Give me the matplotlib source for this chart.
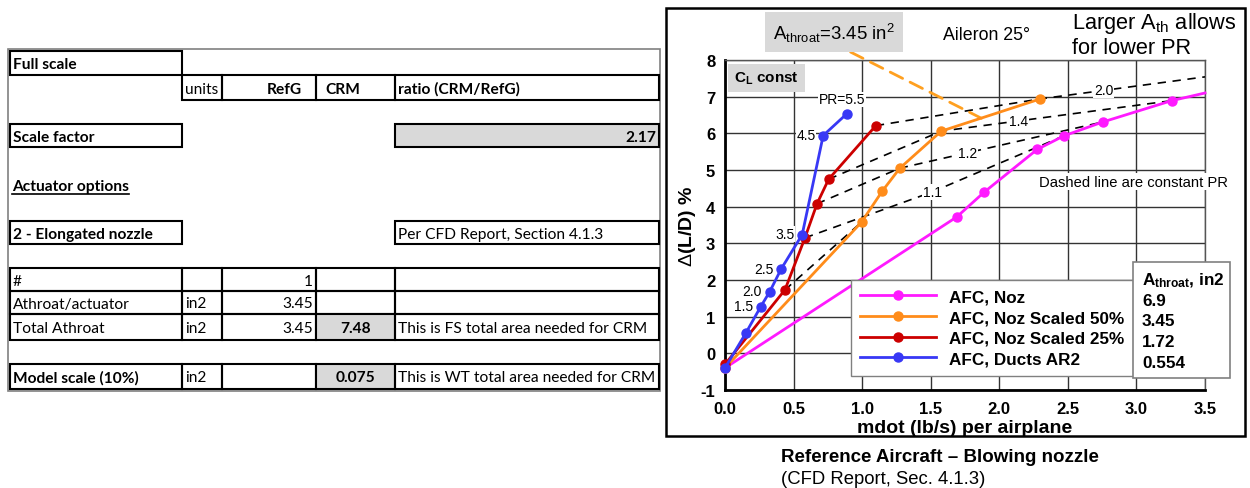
import numpy as np
import matplotlib
matplotlib.use('Agg')
import matplotlib.pyplot as plt
from matplotlib.patches import Rectangle

plt.rcParams['font.family'] = ['Liberation Sans', 'DejaVu Sans']
plt.rcParams['mathtext.fontset'] = 'custom'
plt.rcParams['mathtext.rm'] = 'Liberation Sans'
plt.rcParams['mathtext.it'] = 'Liberation Sans:italic'
plt.rcParams['mathtext.bf'] = 'Liberation Sans:bold'

# AFC blowing: mdot (lb/s) per airplane vs delta(L/D) %
noz_mdot = [0.0, 1.69, 1.888, 2.276, 2.47, 2.755, 3.256, 3.5]
noz_dld = [-0.4, 3.72, 4.39, 5.56, 5.93, 6.31, 6.89, 7.10]
noz50_mdot = [0.0, 0.996, 1.146, 1.275, 1.577, 2.30]
noz50_dld = [-0.4, 3.58, 4.42, 5.05, 6.06, 6.94]
noz25_mdot = [0.0, 0.437, 0.583, 0.671, 0.756, 1.10]
noz25_dld = [-0.3, 1.73, 3.15, 4.08, 4.75, 6.21]
ducts_mdot = [0.0, 0.153, 0.26, 0.326, 0.408, 0.563, 0.716, 0.887]
ducts_dld = [-0.4, 0.56, 1.27, 1.68, 2.29, 3.24, 5.94, 6.53]
ducts_pr = ['', '', '1.5', '2.0', '2.5', '3.5', '4.5', 'PR=5.5']

series_names = ['AFC, Noz', 'AFC, Noz Scaled 50%', 'AFC, Noz Scaled 25%', 'AFC, Ducts AR2']
athroat = ['6.9', '3.45', '1.72', '0.554']

# constant pressure-ratio lines
pr_names = ['', '1.1', '1.2', '1.4', '2.0']
pr_mdot = [[0.437, 0.996], [0.583, 1.51, 2.47], [0.671, 1.275, 2.755],
           [0.756, 1.577, 3.256], [1.10, 2.30, 3.5]]
pr_dld = [[1.73, 3.58], [3.15, 4.40, 5.93], [4.08, 5.05, 6.31],
          [4.75, 6.06, 6.89], [6.21, 6.94, 7.54]]
pr_label_at = [None, 1.51, 1.77, 2.14, 2.76]

# sizing sheet
sheet_header = ['units', 'RefG', 'CRM', 'ratio (CRM/RefG)']
scale_factor = '2.17'
nozzle_note = 'Per CFD Report, Section 4.1.3'
area_rows = [
    ['#', '', '1', '', ''],
    ['Athroat/actuator', 'in2', '3.45', '', ''],
    ['Total Athroat', 'in2', '3.45', '7.48', 'This is FS total area needed for CRM'],
]
model_row = ['Model scale (10%)', 'in2', '', '0.075', 'This is WT total area needed for CRM']

colors = ['#ff1aff', '#ff8c1a', '#cc0000', '#3838f5']
gray = '#d9d9d9'

fig = plt.figure(figsize=(12.5, 4.89), dpi=100)

ax = fig.add_axes([725 / 1250, 1 - 391 / 489, 480 / 1250, 330 / 489])

# page layer in pixel units
page = fig.add_axes([0, 0, 1, 1], zorder=5)
page.set_xlim(0, 1250)
page.set_ylim(489, 0)
page.axis('off')
page.patch.set_visible(False)

SHEET_FONT = 'Lato'
SHEET_SIZE = 11.2


def cell(x0, x1, y0, y1, text='', align='left', bold=False, fill=None, box=True, pad=3):
    if box:
        page.add_patch(Rectangle((x0, y0), x1 - x0, y1 - y0, fc=fill or 'none',
                                 ec='black', lw=1.5))
    if text:
        if align == 'left':
            tx, ha = x0 + pad, 'left'
        elif align == 'right':
            tx, ha = x1 - pad, 'right'
        else:
            tx, ha = (x0 + x1) / 2, 'center'
        page.text(tx, (y0 + y1) / 2 + 1, text, ha=ha, va='center', family=SHEET_FONT,
                  fontsize=SHEET_SIZE, weight='bold' if bold else 'normal')


cols = [10, 182, 222, 316, 395, 659]
page.add_patch(Rectangle((8, 50), 652, 342, fc='none', ec='#808080', lw=1.2))

cell(cols[0], cols[1], 52, 76, 'Full scale', bold=True)
cell(cols[1], cols[2], 76, 101, sheet_header[0])
cell(cols[2], cols[3], 76, 101, sheet_header[1], align='right', bold=True, pad=14)
cell(cols[3], cols[4], 76, 101, sheet_header[2], bold=True, pad=9)
cell(cols[4], cols[5], 76, 101, sheet_header[3], bold=True)

cell(cols[0], cols[1], 125, 148, 'Scale factor', bold=True)
cell(cols[4], cols[5], 125, 148, scale_factor, align='right', bold=True, fill=gray)

page.text(12, 187, 'Actuator options', family=SHEET_FONT, fontsize=SHEET_SIZE,
          weight='bold', va='center')
page.plot([12, 129], [195, 195], color='black', lw=1.2)

cell(cols[0], cols[1], 222, 245, '2 - Elongated nozzle', bold=True)
cell(cols[4], cols[5], 222, 245, nozzle_note)

row_edges = [269, 292, 315, 341]
for r, row in enumerate(area_rows):
    y0, y1 = row_edges[r], row_edges[r + 1]
    cell(cols[0], cols[1], y0, y1, row[0])
    cell(cols[1], cols[2], y0, y1, row[1])
    cell(cols[2], cols[3], y0, y1, row[2], align='right')
    cell(cols[3], cols[4], y0, y1, row[3], align='center', bold=True,
         fill=gray if row[3] else None)
    cell(cols[4], cols[5], y0, y1, row[4])

cell(cols[0], cols[1], 365, 390, model_row[0], bold=True)
cell(cols[1], cols[2], 365, 390, model_row[1])
cell(cols[2], cols[3], 365, 390, model_row[2])
cell(cols[3], cols[4], 365, 390, model_row[3], align='center', bold=True, fill=gray)
cell(cols[4], cols[5], 365, 390, model_row[4])

# chart frame and notes
page.add_patch(Rectangle((666, 9), 579, 428, fc='none', ec='black', lw=1.8))
page.text(943, 35, 'Aileron 25°', fontsize=12.8, va='center')
page.text(1072, 23, r'Larger A$_{\mathrm{th}}$ allows', fontsize=15.7, va='center')
page.text(1072, 48, 'for lower PR', fontsize=15.7, va='center')
page.text(781, 457, 'Reference Aircraft \u2013 Blowing nozzle', fontsize=13.5,
          weight='bold', va='center')
page.text(781, 479, '(CFD Report, Sec. 4.1.3)', fontsize=13.3, va='center')

# throat area table next to the legend
page.add_patch(Rectangle((1133, 263), 97, 116, fc='white', ec='#808080', lw=1.2))
page.text(1142, 281, r'$\mathbf{A_{throat}}$, in2', fontsize=12.3, weight='bold',
          va='center')
for i, a in enumerate(athroat):
    page.text(1142, 301 + 20.7 * i, a, fontsize=12.3, weight='bold', va='center')

# data curves
all_x = [noz_mdot, noz50_mdot, noz25_mdot, ducts_mdot]
all_y = [noz_dld, noz50_dld, noz25_dld, ducts_dld]
for name, xs, ys, c in zip(series_names, all_x, all_y, colors):
    marks = list(range(len(xs) - 1)) if xs is noz_mdot else None
    ax.plot(xs, ys, '-o', color=c, lw=2, ms=6.5, label=name, markevery=marks,
            zorder=4, clip_on=False)

for name, xs, ys, at in zip(pr_names, pr_mdot, pr_dld, pr_label_at):
    ax.plot(xs, ys, color='black', lw=1.2, ls=(0, (5, 4)), zorder=3)
    if name:
        ax.text(at, np.interp(at, xs, ys), name, fontsize=10, ha='center', va='center',
                bbox=dict(fc='white', ec='none', pad=0.5), zorder=3.5)

for x, y, lab in zip(ducts_mdot, ducts_dld, ducts_pr):
    if not lab:
        continue
    if lab.startswith('PR'):
        ax.annotate(lab, (x, y), xytext=(-3.5, 10.5), textcoords='offset points',
                    ha='center', va='center', fontsize=10,
                    bbox=dict(fc='white', ec='none', pad=0.5), zorder=3.5)
    else:
        ax.annotate(lab, (x, y), xytext=(-5.5, 0.5), textcoords='offset points',
                    ha='right', va='center', fontsize=10,
                    bbox=dict(fc='white', ec='none', pad=0.5), zorder=3.5)

ax.text(0.30, 7.51, r'$\mathbf{C_L}$ const', fontsize=11, weight='bold', ha='center',
        va='center', bbox=dict(boxstyle='square,pad=0.4', fc=gray, ec='none'), zorder=5)
ax.text(2.29, 4.68, 'Dashed line are constant PR', fontsize=10.6, ha='left', va='center',
        bbox=dict(fc='white', ec='none', pad=1), zorder=3.5)

ax.annotate(r'A$_{\mathrm{throat}}$=3.45 in$^2$', xy=(1.87, 6.41), xytext=(0.795, 8.76),
            fontsize=13.4, ha='center', va='center', annotation_clip=False,
            bbox=dict(boxstyle='square,pad=0.45', fc=gray, ec='none'),
            arrowprops=dict(arrowstyle='-', color='#ffa020', lw=2, ls=(0, (5, 3)),
                            relpos=(0.5, 0), shrinkA=0, shrinkB=0))

ax.set_xlim(0, 3.5)
ax.set_ylim(-1, 8)
xt = np.arange(0, 3.51, 0.5)
ax.set_xticks(xt)
ax.set_xticklabels(['%.1f' % v for v in xt], fontweight='bold')
yt = np.arange(-1, 9)
ax.set_yticks(yt)
ax.set_yticklabels(['%d' % v for v in yt], fontweight='bold')
ax.tick_params(length=0, labelsize=12, colors='black')
ax.tick_params(axis='x', pad=8)
ax.tick_params(axis='y', pad=7)
ax.grid(color='#333333', lw=1.0)
ax.set_axisbelow(True)
for s in ['left', 'bottom']:
    ax.spines[s].set_linewidth(2)
for s in ['top', 'right']:
    ax.spines[s].set_color('#555555')
    ax.spines[s].set_linewidth(1)
ax.set_xlabel('mdot (lb/s) per airplane', fontsize=14, weight='bold', labelpad=2)
ax.set_ylabel(r'$\Delta$(L/D) %', fontsize=14, weight='bold', labelpad=2)

ax.legend(loc='upper left', bbox_to_anchor=(851 / 1250, 1 - 281 / 489),
          bbox_transform=fig.transFigure, prop=dict(weight='bold', size=12.3),
          numpoints=1, fancybox=False, edgecolor='#808080', framealpha=1,
          handlelength=4.4, handletextpad=0.8, borderpad=0.55, labelspacing=0.33,
          borderaxespad=0)

fig.savefig('out.png', dpi=100)
